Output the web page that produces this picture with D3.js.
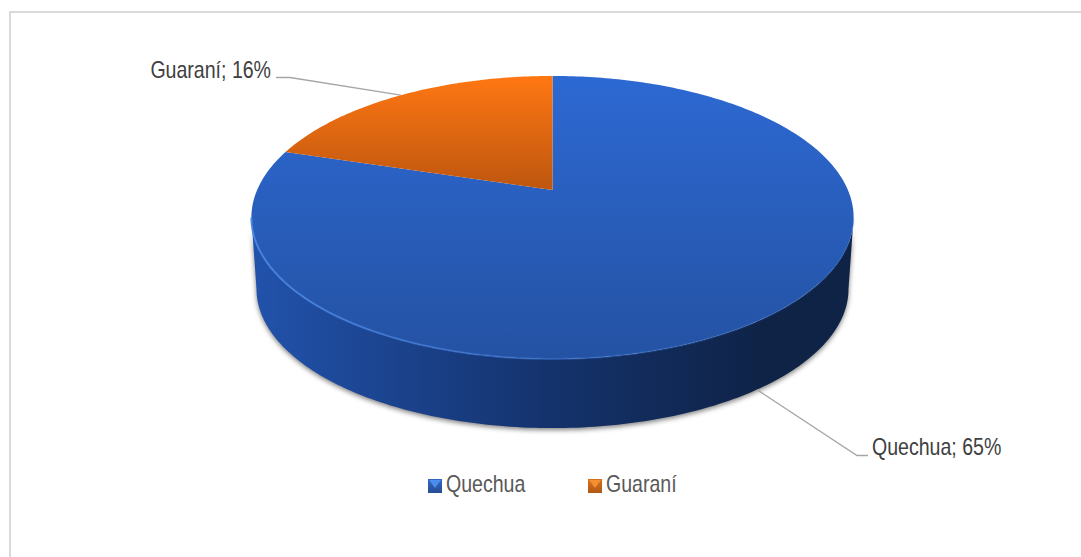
<!DOCTYPE html>
<html>
<head>
<meta charset="utf-8">
<script src="https://cdn.jsdelivr.net/npm/d3@7"></script>
<style>
    body { margin: 0; background: #fff; }
    text { font-family: "Liberation Sans", sans-serif; }
    .dataLabel { font-size: 24px; fill: #404040; }
    .legendLabel { font-size: 23px; fill: #595959; }
</style>
</head>
<body>
<div id="wrapper"></div>
<script>
const categories = ['Quechua', 'Guaraní'];
// labels only show whole percents, the slice sizes read a bit finer off the picture
const shares = [64.6, 16.4];
const topColors = [['#2d69d3', '#2452a3'], ['#ff7713', '#bd560f']];
const wallColors = ['#2152ab', '#14326c', '#0f2347'];

const width = 1081;
const height = 557;

// Pie is drawn with a perspective mapping: the centre of the circle sits above the middle of the ellipse
const pieGeo = {
    cx: 552.5,
    cy: 190,
    r: 295.4,
    s: 136.2,
    k: -0.194,
    depth: 72,
    bottomScale: 0.983
};

function project(angle, z = 0) {
    const u = Math.sin(angle);
    const v = -Math.cos(angle);
    const w = 1 + pieGeo.k * v;
    const scale = z > 0 ? pieGeo.bottomScale : 1;
    return [
        pieGeo.cx + scale * pieGeo.r * u / w,
        pieGeo.cy + pieGeo.s * scale * v / w + z
    ];
}

const svg = d3.select('#wrapper')
    .append('svg')
    .attr('width', width)
    .attr('height', height)
    .style('display', 'block');

const defs = svg.append('defs');

topColors.forEach((c, i) => {
    const grad = defs.append('linearGradient')
        .attr('id', 'top' + i)
        .attr('gradientUnits', 'userSpaceOnUse')
        .attr('x1', 0).attr('x2', 0)
        .attr('y1', 76)
        .attr('y2', i === 0 ? 359 : 190);
    grad.append('stop').attr('offset', 0).attr('stop-color', c[0]);
    grad.append('stop').attr('offset', 1).attr('stop-color', c[1]);
});

const wallGrad = defs.append('linearGradient')
    .attr('id', 'wall')
    .attr('gradientUnits', 'userSpaceOnUse')
    .attr('x1', 255).attr('x2', 850)
    .attr('y1', 0).attr('y2', 0);
wallColors.forEach((c, i) => {
    wallGrad.append('stop').attr('offset', [0, 0.5, 0.85][i]).attr('stop-color', c);
});

// rim highlight fades out towards the dark side
const rimGrad = defs.append('linearGradient')
    .attr('id', 'rim')
    .attr('gradientUnits', 'userSpaceOnUse')
    .attr('x1', 251).attr('x2', 854)
    .attr('y1', 0).attr('y2', 0);
rimGrad.append('stop').attr('offset', 0).attr('stop-color', '#4a86e4').attr('stop-opacity', 0.9);
rimGrad.append('stop').attr('offset', 0.55).attr('stop-color', '#3f7bdc').attr('stop-opacity', 0.4);
rimGrad.append('stop').attr('offset', 1).attr('stop-color', '#3f7bdc').attr('stop-opacity', 0.1);

const shadow = defs.append('filter')
    .attr('id', 'shadow')
    .attr('x', '-5%').attr('y', '-5%')
    .attr('width', '110%').attr('height', '110%');
shadow.append('feGaussianBlur').attr('stdDeviation', 2.5);

const keyBlue = defs.append('linearGradient').attr('id', 'key0').attr('x1', 0).attr('x2', 0).attr('y1', 0).attr('y2', 1);
keyBlue.append('stop').attr('offset', 0).attr('stop-color', '#3567bf');
keyBlue.append('stop').attr('offset', 1).attr('stop-color', '#264d94');
const keyOrange = defs.append('linearGradient').attr('id', 'key1').attr('x1', 0).attr('x2', 0).attr('y1', 0).attr('y2', 1);
keyOrange.append('stop').attr('offset', 0).attr('stop-color', '#d9701a');
keyOrange.append('stop').attr('offset', 1).attr('stop-color', '#b05a14');

// frame, only top and left show in the picture
svg.append('path')
    .attr('d', 'M10,557V12H1081')
    .attr('fill', 'none')
    .attr('stroke', '#d9d9d9')
    .attr('stroke-width', 2);

const slices = d3.pie().sort(null)(shares);

// the slices run clockwise from 12 o'clock
const line = d3.line();
function arcPoints(a0, a1, z = 0) {
    const n = Math.max(2, Math.ceil(Math.abs(a1 - a0) * 60));
    return d3.range(n + 1).map(i => project(a0 + (a1 - a0) * i / n, z));
}

// front wall runs between the two widest points of the ellipse
const rightAngle = Math.PI / 2 - Math.asin(pieGeo.k);
const leftAngle = 2 * Math.PI - rightAngle;
const wallPoints = arcPoints(rightAngle, leftAngle, 0)
    .concat(arcPoints(leftAngle, rightAngle, pieGeo.depth));

svg.append('path')
    .attr('d', line(wallPoints) + 'Z')
    .attr('fill', '#555')
    .attr('opacity', 0.75)
    .attr('filter', 'url(#shadow)')
    .attr('transform', 'translate(0,2)');

svg.append('path')
    .attr('d', line(wallPoints) + 'Z')
    .attr('fill', 'url(#wall)');

// leader lines start at the middle of each slice
const labelLayout = [
    { elbow: [857, 455.5], end: [868, 455.5], x: 872, y: 455, z: pieGeo.depth },
    { elbow: [290, 77.5], end: [276, 77.5], x: 271, y: 78, z: 0 }
];

svg.selectAll('.leader')
    .data(slices)
    .enter()
    .append('path')
    .attr('class', 'leader')
    .attr('fill', 'none')
    .attr('stroke', '#a6a6a6')
    .attr('stroke-width', 1.3)
    .attr('d', (d, i) => {
        const mid = (d.startAngle + d.endAngle) / 2;
        return line([project(mid, labelLayout[i].z), labelLayout[i].elbow, labelLayout[i].end]);
    });

svg.selectAll('.slice')
    .data(slices)
    .enter()
    .append('path')
    .attr('class', 'slice')
    .attr('fill', (d, i) => `url(#top${i})`)
    .attr('d', d => line([[pieGeo.cx, pieGeo.cy]].concat(arcPoints(d.startAngle, d.endAngle))) + 'Z');

// light rim along the front of the top surface
svg.append('path')
    .attr('d', line(arcPoints(rightAngle, leftAngle, 0)))
    .attr('fill', 'none')
    .attr('stroke', 'url(#rim)')
    .attr('stroke-width', 2);

// no narrow font installed, so the text is squeezed sideways
svg.selectAll('.dataLabel')
    .data(slices)
    .enter()
    .append('text')
    .attr('class', 'dataLabel')
    .attr('transform', (d, i) => `translate(${labelLayout[i].x},${labelLayout[i].y}) scale(0.815,1)`)
    .attr('text-anchor', (d, i) => i === 0 ? 'start' : 'end')
    .text((d, i) => `${categories[i]}; ${Math.round(shares[i])}%`);

// legend
const legendX = d3.scalePoint().domain(categories).range([428, 588]);
const legend = svg.selectAll('.legendItem')
    .data(categories)
    .enter()
    .append('g')
    .attr('class', 'legendItem')
    .attr('transform', d => `translate(${legendX(d)},479)`);

legend.append('rect')
    .attr('width', 14)
    .attr('height', 14)
    .attr('fill', (d, i) => `url(#key${i})`);

legend.append('path')
    .attr('d', 'M1,1H13L7,9Z')
    .attr('fill', (d, i) => i === 0 ? '#4d8df0' : '#f59032');

legend.append('text')
    .attr('class', 'legendLabel')
    .attr('transform', 'translate(18,13) scale(0.85,1)')
    .text(d => d);
</script>
</body>
</html>
